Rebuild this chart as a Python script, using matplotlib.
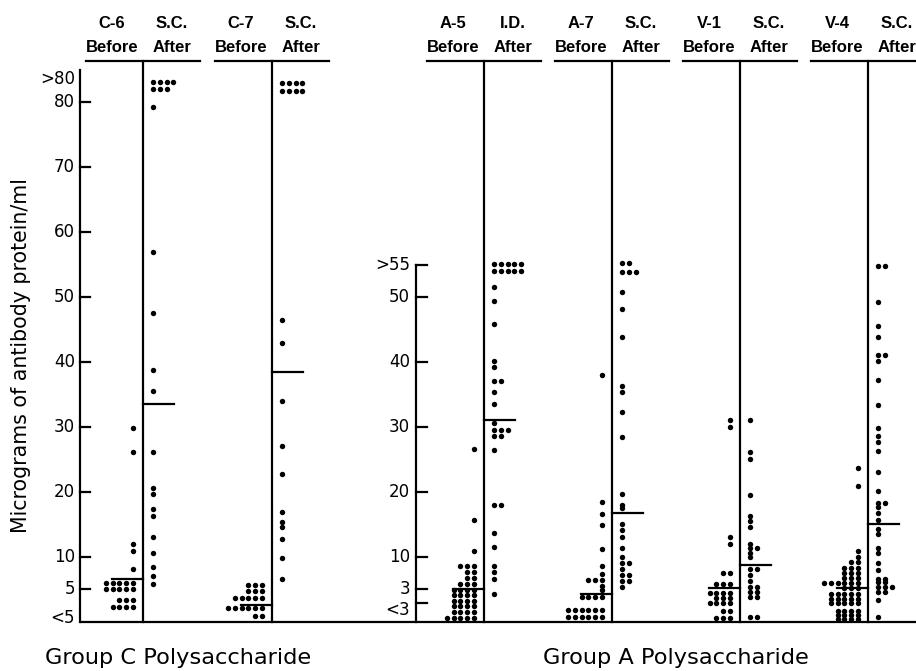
import matplotlib
matplotlib.use("Agg")
import matplotlib.pyplot as plt

# antibody levels, in axis position units
# (right panel: "3" sits where 5 is on the left, "<3" below it)
c6_before = [29.8, 26.1, 11.9, 10.8, 8.1] + [5.9]*5 + [5.0]*5 + [3.3]*3 + [2.2]*4
c6_after = [83.1]*4 + [82.0]*3 + [79.3, 56.9, 47.5, 38.8, 35.5, 26.1, 20.5, 19.6,
                                  17.3, 16.3, 13.0, 10.6, 8.4, 7.0, 5.8]
c7_before = [5.6]*3 + [4.7]*3 + [3.6]*5 + [2.0]*6 + [0.9]*2
c7_after = [82.9]*4 + [81.8]*4 + [46.4, 42.9, 33.9, 27.1, 22.7, 16.9, 15.3, 14.6,
                                  12.7, 9.8, 6.6]
a5_before = [26.5, 15.6, 10.9] + [8.5]*3 + [7.6]*2 + [6.7]*2 + [5.8]*3 + [4.8]*4 \
    + [4.0]*4 + [3.1]*4 + [2.3]*4 + [1.45]*4 + [0.6]*5
a5_after = [55.1]*5 + [54.0]*5 + [51.6, 49.3, 45.8, 40.1, 39.2] + [37.0]*2 \
    + [35.3, 33.5, 30.5] + [29.5]*3 + [28.6]*2 + [26.4] + [17.9]*2 \
    + [13.6, 11.5, 8.5, 7.6, 6.5, 4.2]
a7_before = [38.0, 18.4, 16.5, 14.8, 11.1, 8.6, 7.3] + [6.4]*3 + [5.5, 4.8] \
    + [3.7]*4 + [1.76]*6 + [0.63]*6
a7_after = [55.2]*2 + [53.9]*3 + [50.7, 48.1, 43.9, 36.3, 35.4, 32.2, 28.4, 19.7,
                                  18.0, 17.4, 15.0, 14.1, 13.05, 11.3, 9.9] \
    + [9.0]*2 + [8.0] + [7.2]*2 + [6.3]*2 + [5.35]
v1_before = [31.0, 30.0, 13.0, 11.9] + [7.4]*2 + [5.8]*3 + [4.4]*4 + [3.65]*3 \
    + [2.9]*4 + [1.6]*2 + [0.57]*3
v1_after = [31.1, 26.1, 25.1, 19.5, 16.2, 15.4, 14.5, 12.0] + [11.3]*2 \
    + [10.6, 9.9] + [8.0]*2 + [7.1, 6.3] + [5.3]*2 + [4.6]*2 + [3.8]*2 + [0.63]*2
v4_before = [23.6, 20.8, 10.9, 10.0] + [9.2]*2 + [8.3]*3 + [7.5]*3 + [6.7]*3 \
    + [5.9]*6 + [5.1]*3 + [4.3]*5 + [3.5]*5 + [2.8]*5 + [1.6]*4 + [1.0]*4 + [0.4]*4
v4_after = [54.8]*2 + [49.2, 45.5, 43.8] + [41.0]*2 + [40.2, 37.2, 33.3, 29.8,
                                                      28.5, 27.7, 26.3, 23.0, 20.1] \
    + [18.2]*2 + [17.7, 16.75, 15.7, 14.3, 13.4, 11.3, 10.5, 8.95, 7.9] \
    + [6.6]*2 + [6.0]*2 + [5.35]*3 + [4.6]*2 + [3.3, 0.72]

vaccines = ["C-6", "C-7", "A-5", "A-7", "V-1", "V-4"]
routes = ["S.C.", "S.C.", "I.D.", "S.C.", "S.C.", "S.C."]
before_sets = [c6_before, c7_before, a5_before, a7_before, v1_before, v4_before]
after_sets = [c6_after, c7_after, a5_after, a7_after, v1_after, v4_after]
med_before = [6.5, 2.6, 4.95, 4.2, 5.1, 5.1]
med_after = [33.5, 38.5, 31.0, 16.65, 8.7, 15.0]

left_ticks = [83.6, 80, 70, 60, 50, 40, 30, 20, 10, 5, 0.5]
left_labels = [">80", "80", "70", "60", "50", "40", "30", "20", "10", "5", "<5"]
right_ticks = [54.9, 50, 40, 30, 20, 10, 5, 2.9]
right_labels = [">55", "50", "40", "30", "20", "10", "3", ""]

# layout (pixel-like x units, y in axis units)
dividers = [143, 272, 484, 612, 740, 868]
left_spine, right_spine = 80, 416
gap, step = 10, 6.8
base = -0.14

fig = plt.figure(figsize=(9.16, 6.71), dpi=100)
ax = fig.add_axes([0, 0, 1, 1])
ax.set_xlim(0, 916)
ax.set_ylim(-7.64, 95.75)
ax.axis("off")

lw = 1.6
tickfont = dict(family="DejaVu Sans", fontsize=12)
headfont = dict(family=["Liberation Sans", "DejaVu Sans"], fontsize=12,
                fontweight="bold")

# axes lines
ax.plot([left_spine, 916], [base, base], color="black", lw=lw, solid_capstyle="butt")
ax.plot([left_spine, left_spine], [base, 85.0], color="black", lw=lw)
ax.plot([right_spine, right_spine], [base, 54.9], color="black", lw=lw)
for t, lab in zip(left_ticks, left_labels):
    if lab not in (">80", "<5"):
        ax.plot([left_spine, left_spine + 10], [t, t], color="black", lw=lw)
    ax.text(left_spine - 5, t, lab, ha="right", va="center", **tickfont)
for t, lab in zip(right_ticks, right_labels):
    ax.plot([right_spine, right_spine + 11], [t, t], color="black", lw=lw)
    if lab:
        ax.text(right_spine - 6, t, lab, ha="right", va="center", **tickfont)
ax.text(right_spine - 6, 1.76, "<3", ha="right", va="center", **tickfont)

# columns
for i, d in enumerate(dividers):
    ax.plot([d, d], [base, 86.3], color="black", lw=lw)
    ax.plot([d - 57, d + 57], [86.3, 86.3], color="black", lw=lw)
    ax.text(d - 31, 92.1, vaccines[i], ha="center", va="center", **headfont)
    ax.text(d - 31, 88.5, "Before", ha="center", va="center", **headfont)
    ax.text(d + 29, 92.1, routes[i], ha="center", va="center", **headfont)
    ax.text(d + 29, 88.5, "After", ha="center", va="center", **headfont)

    for vals, sign in ((before_sets[i], -1), (after_sets[i], 1)):
        seen = {}
        xs, ys = [], []
        for v in vals:
            k = seen.get(v, 0)
            seen[v] = k + 1
            xs.append(d + sign * (gap + k * step))
            ys.append(v)
        ax.plot(xs, ys, "o", color="black", markersize=3.9, markeredgewidth=0)

    ax.plot([d - 31, d], [med_before[i], med_before[i]], color="black", lw=lw)
    ax.plot([d, d + 31], [med_after[i], med_after[i]], color="black", lw=lw)

ax.text(21, 40.9, "Micrograms of antibody protein/ml", rotation=90,
        ha="center", va="center", family="DejaVu Sans", fontsize=14.8)
ax.text(178, -5.64, "Group C Polysaccharide", ha="center", va="center",
        family="DejaVu Sans", fontsize=16.2)
ax.text(676, -5.64, "Group A Polysaccharide", ha="center", va="center",
        family="DejaVu Sans", fontsize=16.2)

fig.savefig("out.png", dpi=100)
